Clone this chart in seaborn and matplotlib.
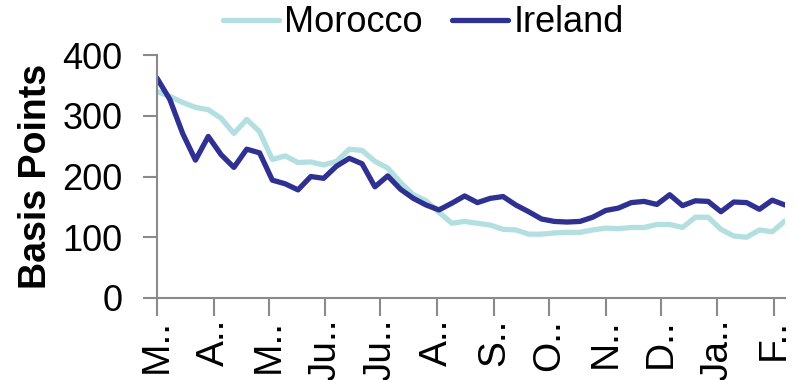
import matplotlib
matplotlib.use("Agg")
import matplotlib.pyplot as plt
import matplotlib.dates as mdates
import seaborn as sns
import pandas as pd

# Weekly spread observations, basis points
dates = pd.date_range("2012-03-01", periods=50, freq="7D")
morocco = [340, 332, 322, 314, 310, 296, 271, 294, 274, 228,
           234, 223, 224, 219, 225, 245, 243, 225, 214, 190,
           170, 160, 141, 123, 126, 123, 120, 113, 112, 105,
           105, 107, 108, 108, 112, 115, 114, 116, 116, 121,
           121, 116, 133, 133, 113, 102, 100, 112, 109, 127]
ireland = [362, 327, 271, 227, 266, 236, 215, 245, 239, 194,
           188, 178, 200, 197, 217, 230, 221, 183, 201, 179,
           164, 153, 145, 156, 168, 157, 164, 167, 153, 142,
           130, 126, 125, 126, 133, 144, 148, 157, 159, 154,
           170, 152, 160, 159, 142, 158, 157, 146, 161, 153]
month_labels = ["M..", "A..", "M..", "Ju..", "Ju..", "A..",
                "S..", "O..", "N..", "D..", "Ja..", "F.."]
series_names = ["Morocco", "Ireland"]
series_colors = ["#b3dfe0", "#2e3192"]

df = pd.concat([
    pd.DataFrame({"date": dates, "value": morocco, "series": "Morocco"}),
    pd.DataFrame({"date": dates, "value": ireland, "series": "Ireland"}),
], ignore_index=True)

sns.set_style("white")
plt.rcParams["font.family"] = ["Liberation Sans", "DejaVu Sans"]
plt.rcParams["text.color"] = "black"
plt.rcParams["axes.labelcolor"] = "black"

fig, ax = plt.subplots(figsize=(7.97, 3.80), dpi=100)
fig.subplots_adjust(left=0.197, right=0.985, bottom=0.216, top=0.855)

sns.lineplot(data=df, x="date", y="value", hue="series",
             hue_order=series_names, palette=series_colors,
             linewidth=3.8, ax=ax, legend=True)

ax.set_xlim(dates[0], dates[-1])
ax.set_ylim(0, 400)
ax.set_yticks([0, 100, 200, 300, 400])

ax.xaxis.set_major_locator(mdates.MonthLocator())
ticks = ax.get_xticks()
ax.set_xticks(ticks[:len(month_labels)])
ax.set_xticklabels(month_labels, rotation=90, fontsize=28)
ax.tick_params(axis="y", labelsize=26, pad=15)
ax.tick_params(axis="both", direction="out", length=10, width=1.5,
               color="#8a8a8a", labelcolor="black", bottom=True, left=True)
ax.tick_params(axis="x", length=13, pad=2)

for side in ["top", "right"]:
    ax.spines[side].set_visible(False)
for side in ["left", "bottom"]:
    ax.spines[side].set_color("#8a8a8a")
    ax.spines[side].set_linewidth(1.5)

ax.set_xlabel("")
ax.set_ylabel("Basis Points", fontsize=27, fontweight="bold", labelpad=6)

handles, labels = ax.get_legend_handles_labels()
ax.legend_.remove()
fig.legend(handles, labels, loc="center", bbox_to_anchor=(0.531, 0.94),
           ncol=2, frameon=False, fontsize=26, handlelength=1.55,
           handletextpad=0.15, columnspacing=0.8)

fig.savefig("out.png", dpi=100)
